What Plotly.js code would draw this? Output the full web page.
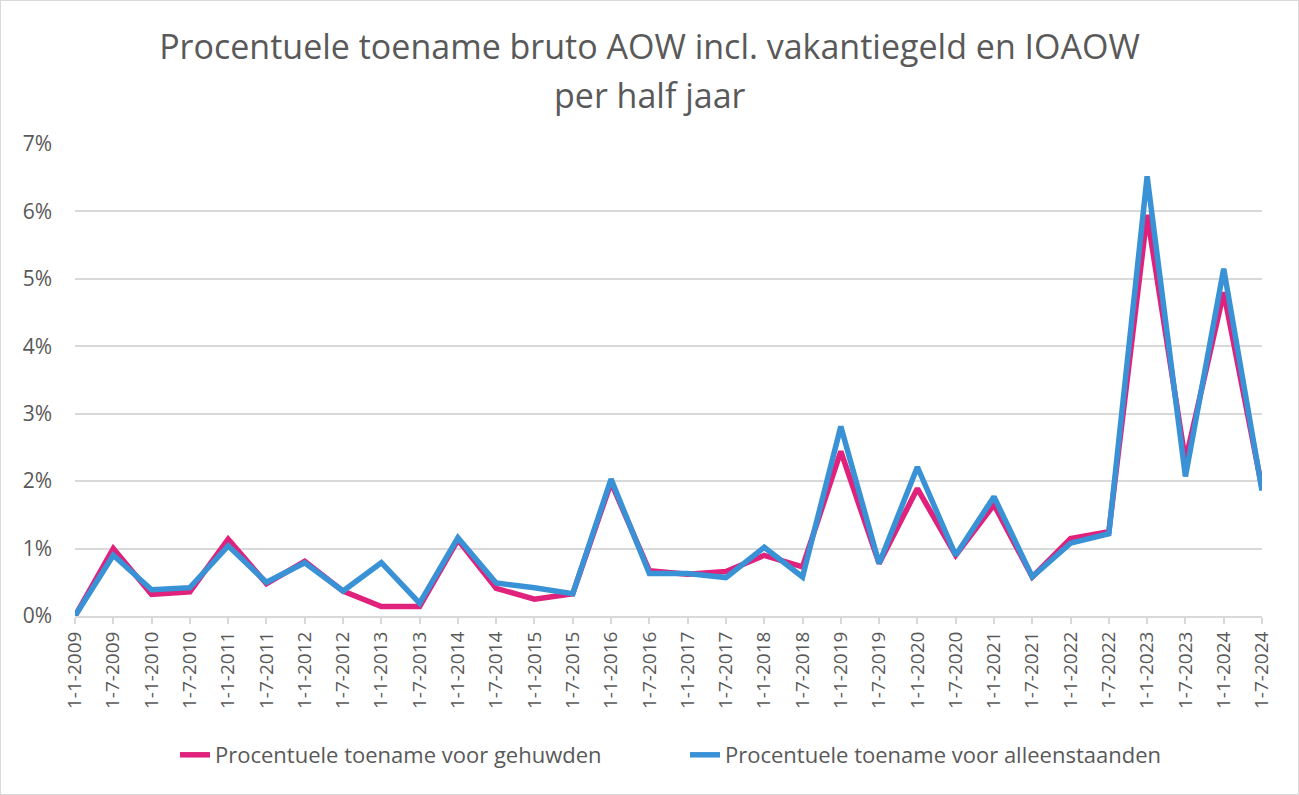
<!DOCTYPE html>
<html>
<head>
<meta charset="utf-8">
<script src="https://cdn.plot.ly/plotly-3.0.1.min.js"></script>
<style>
html,body{margin:0;padding:0;background:#fff;}
#chart{width:1299px;height:795px;}
#frame{position:absolute;left:0;top:0;width:1299px;height:795px;box-sizing:border-box;border:1px solid #d9d9d9;pointer-events:none;}
</style>
</head>
<body>
<div id="chart"></div>
<div id="frame"></div>
<script>
const categories = ["1-1-2009","1-7-2009","1-1-2010","1-7-2010","1-1-2011","1-7-2011","1-1-2012","1-7-2012","1-1-2013","1-7-2013","1-1-2014","1-7-2014","1-1-2015","1-7-2015","1-1-2016","1-7-2016","1-1-2017","1-7-2017","1-1-2018","1-7-2018","1-1-2019","1-7-2019","1-1-2020","1-7-2020","1-1-2021","1-7-2021","1-1-2022","1-7-2022","1-1-2023","1-7-2023","1-1-2024","1-7-2024"];
const gehuwden = [0.00,1.00,0.32,0.36,1.14,0.48,0.81,0.37,0.14,0.14,1.13,0.41,0.25,0.33,1.98,0.67,0.62,0.66,0.90,0.73,2.44,0.78,1.89,0.90,1.65,0.58,1.15,1.25,5.95,2.30,4.80,1.90];
const alleenstaanden = [0.00,0.90,0.39,0.42,1.04,0.50,0.79,0.37,0.79,0.19,1.16,0.49,0.42,0.33,2.03,0.63,0.63,0.57,1.02,0.58,2.81,0.78,2.21,0.90,1.77,0.58,1.08,1.22,6.52,2.07,5.15,1.86];
const seriesNames = ["Procentuele toename voor gehuwden","Procentuele toename voor alleenstaanden"];
const titleLine1 = "Procentuele toename bruto AOW incl. vakantiegeld en IOAOW";
const titleLine2 = "per half jaar";

const FONT = "'Open Sans', sans-serif";
const TXT = "#595959";
const traces = [
  {x: categories, y: gehuwden, name: seriesNames[0], type: "scatter", mode: "lines",
   line: {color: "#E0227C", width: 5.5}},
  {x: categories, y: alleenstaanden, name: seriesNames[1], type: "scatter", mode: "lines",
   line: {color: "#3A92D6", width: 5.5}}
];
const layout = {
  width: 1299, height: 795,
  paper_bgcolor: "#fff", plot_bgcolor: "#fff",
  margin: {l: 75, r: 37, t: 144, b: 179},
  font: {family: FONT, color: TXT, size: 20},
  title: {text: titleLine1, xref: "container", x: 0.5, xanchor: "center", yref: "container", y: 1 - 47/795, yanchor: "middle",
          font: {family: FONT, size: 34, color: TXT}},
  annotations: [{text: titleLine2, xref: "paper", yref: "paper", x: (649.5-75)/1187, y: 1 + (144-95)/472,
                 xanchor: "center", yanchor: "middle", showarrow: false, font: {family: FONT, size: 34, color: TXT}}],
  xaxis: {type: "category", range: [0, categories.length - 1], tickangle: -90,
          showgrid: false, showline: true, linecolor: "#d9d9d9", linewidth: 2,
          ticks: "outside", ticklen: 6, tickcolor: "#d9d9d9", tickwidth: 2,
          tickfont: {family: FONT, size: 19, color: TXT}, zeroline: false, fixedrange: true},
  yaxis: {range: [0, 7], dtick: 1, ticksuffix: "%", showgrid: true, gridcolor: "#d9d9d9", gridwidth: 2,
          zeroline: false, showline: false, ticks: "", ticklabelstandoff: 22,
          tickfont: {family: FONT, size: 21, color: TXT}, fixedrange: true},
  showlegend: true,
  legend: {orientation: "h", xref: "container", x: 175/1299, xanchor: "left", yref: "container", y: 1 - 755/795, yanchor: "middle",
           font: {family: FONT, size: 22, color: TXT}, entrywidth: 465, entrywidthmode: "pixels"}
};
Plotly.newPlot("chart", traces, layout, {displayModeBar: false, staticPlot: true});
</script>
</body>
</html>
